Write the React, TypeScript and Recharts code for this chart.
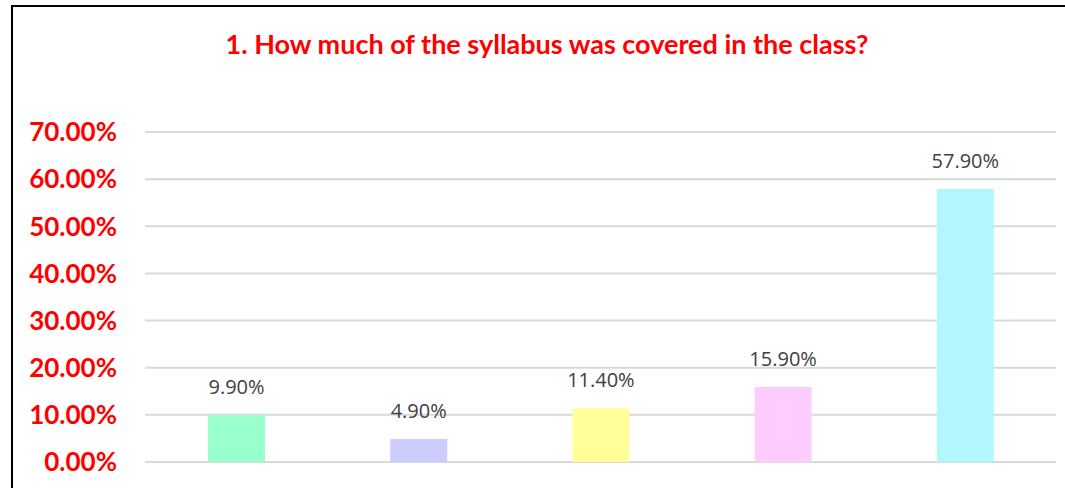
import { BarChart, Bar, YAxis, XAxis, CartesianGrid, Cell, LabelList } from 'recharts';

const categories = ['Option 1', 'Option 2', 'Option 3', 'Option 4', 'Option 5'];
const shares = [0.099, 0.049, 0.114, 0.159, 0.579];
const barColors = ['#99FFCC', '#CCCCFF', '#FFFF99', '#FFCCFF', '#B1F7FB'];
const yTicks = [0, 0.1, 0.2, 0.3, 0.4, 0.5, 0.6, 0.7];

const chartData = categories.map((name, i) => ({ name, value: shares[i] }));

const pct = (v: number) => `${(v * 100).toFixed(2)}%`;

export default function App() {
  return (
    <div style={{ position: 'absolute', left: 0, top: 0, width: 1065, height: 488, background: '#fff', overflow: 'hidden' }}>
      <div
        style={{
          position: 'absolute',
          left: 11,
          top: 5,
          width: 1100,
          height: 500,
          borderLeft: '2px solid #000',
          borderTop: '2px solid #000',
        }}
      />
      <div
        style={{
          position: 'absolute',
          left: 0,
          width: 1094,
          top: 27,
          textAlign: 'center',
          fontFamily: 'Lato, sans-serif',
          fontWeight: 700,
          fontSize: 27,
          color: '#FF0000',
          whiteSpace: 'nowrap',
        }}
      >
        1. How much of the syllabus was covered in the class?
      </div>
      <div style={{ position: 'absolute', left: 0, top: 0 }}>
        <BarChart width={1065} height={488} data={chartData} margin={{ top: 132, right: 9, bottom: 26, left: 0 }}>
          <CartesianGrid horizontal vertical={false} stroke="#d9d9d9" strokeWidth={2} />
          <XAxis dataKey="name" hide />
          <YAxis
            width={145}
            domain={[0, 0.7]}
            ticks={yTicks}
            interval={0}
            axisLine={false}
            tickLine={false}
            tickSize={0}
            tickMargin={28}
            tickFormatter={pct}
            tick={{ fill: '#FF0000', fontSize: 26, fontWeight: 700, fontFamily: 'Lato, sans-serif' }}
          />
          <Bar dataKey="value" barSize={57} isAnimationActive={false}>
            {chartData.map((d, i) => (
              <Cell key={d.name} fill={barColors[i]} />
            ))}
            <LabelList
              dataKey="value"
              position="top"
              offset={21}
              formatter={(v: any) => pct(Number(v))}
              style={{ fill: '#404040', fontSize: 20, fontFamily: '"Open Sans", sans-serif' }}
            />
          </Bar>
        </BarChart>
      </div>
    </div>
  );
}
